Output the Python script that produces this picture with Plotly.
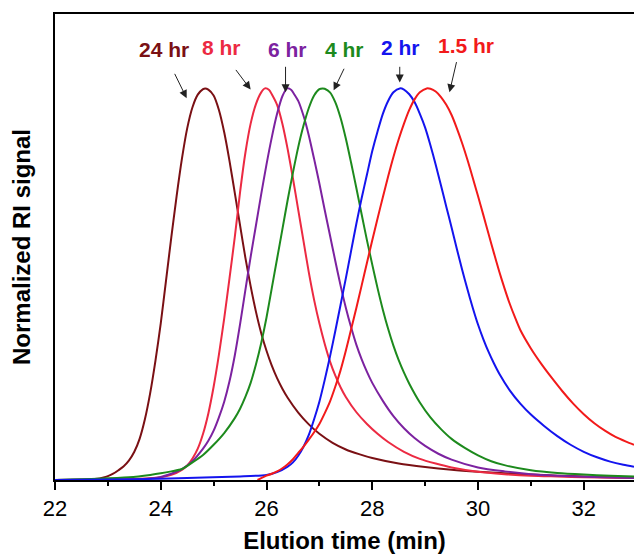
import plotly.graph_objects as go

# ---- data ----
t24_x = [22.0, 22.7, 22.8, 22.9, 23.0, 23.1, 23.2, 23.3, 23.4, 23.5, 23.6, 23.7, 23.8, 23.9, 24.0, 24.1, 24.2, 24.3, 24.4, 24.5, 24.6, 24.7, 24.8, 24.84, 24.9, 25.0, 25.1, 25.2, 25.3, 25.4, 25.5, 25.6, 25.7, 25.8, 25.9, 26.0, 26.1, 26.2, 26.3, 26.4, 26.6, 26.8, 27.0, 27.25, 27.5, 27.75, 28.0, 28.5, 29.0, 29.5, 30.0, 30.5, 31.0, 31.5, 32.0, 32.5, 32.95]
t24_y = [0.0, 0.0015, 0.003, 0.006, 0.010, 0.016, 0.025, 0.035, 0.050, 0.072, 0.105, 0.155, 0.222, 0.305, 0.400, 0.510, 0.620, 0.725, 0.820, 0.898, 0.952, 0.984, 0.998, 1.0, 0.997, 0.982, 0.945, 0.888, 0.815, 0.733, 0.650, 0.568, 0.495, 0.430, 0.375, 0.330, 0.292, 0.260, 0.233, 0.210, 0.172, 0.142, 0.118, 0.095, 0.078, 0.066, 0.056, 0.042, 0.033, 0.026, 0.021, 0.017, 0.014, 0.011, 0.009, 0.007, 0.006]

t8_x = [22.0, 23.0, 23.6, 24.0, 24.2, 24.4, 24.5, 24.6, 24.7, 24.8, 24.9, 25.0, 25.1, 25.2, 25.3, 25.4, 25.5, 25.6, 25.7, 25.8, 25.9, 25.97, 26.05, 26.1, 26.2, 26.3, 26.4, 26.5, 26.6, 26.7, 26.8, 26.9, 27.0, 27.1, 27.2, 27.3, 27.4, 27.5, 27.7, 27.9, 28.1, 28.3, 28.6, 28.9, 29.2, 29.5, 30.0, 30.5, 31.0, 31.5, 32.0, 32.95]
t8_y = [0.0, 0.001, 0.003, 0.007, 0.013, 0.026, 0.037, 0.055, 0.080, 0.118, 0.170, 0.238, 0.320, 0.413, 0.515, 0.620, 0.735, 0.835, 0.910, 0.960, 0.990, 1.0, 0.996, 0.985, 0.958, 0.910, 0.845, 0.770, 0.690, 0.610, 0.530, 0.460, 0.400, 0.348, 0.303, 0.267, 0.237, 0.212, 0.173, 0.143, 0.118, 0.097, 0.072, 0.054, 0.042, 0.032, 0.021, 0.015, 0.011, 0.009, 0.007, 0.005]

t6_x = [22.0, 23.0, 23.6, 24.0, 24.2, 24.4, 24.6, 24.8, 24.9, 25.0, 25.1, 25.2, 25.3, 25.4, 25.5, 25.6, 25.7, 25.8, 25.9, 26.0, 26.1, 26.2, 26.3, 26.39, 26.47, 26.5, 26.6, 26.7, 26.8, 26.9, 27.0, 27.1, 27.2, 27.3, 27.4, 27.5, 27.6, 27.7, 27.8, 27.9, 28.0, 28.2, 28.4, 28.6, 28.8, 29.0, 29.25, 29.5, 30.0, 30.5, 31.0, 31.5, 32.0, 32.95]
t6_y = [0.0, 0.001, 0.002, 0.008, 0.016, 0.028, 0.048, 0.080, 0.100, 0.126, 0.160, 0.200, 0.252, 0.318, 0.398, 0.485, 0.570, 0.650, 0.730, 0.806, 0.875, 0.935, 0.980, 1.0, 0.996, 0.990, 0.968, 0.930, 0.880, 0.820, 0.757, 0.690, 0.625, 0.560, 0.497, 0.440, 0.390, 0.345, 0.308, 0.276, 0.248, 0.202, 0.163, 0.132, 0.107, 0.087, 0.067, 0.052, 0.032, 0.022, 0.015, 0.011, 0.008, 0.005]

t4_x = [22.0, 22.8, 23.4, 23.8, 24.0, 24.2, 24.4, 24.6, 24.8, 25.0, 25.2, 25.4, 25.5, 25.6, 25.7, 25.8, 25.9, 26.0, 26.1, 26.2, 26.3, 26.4, 26.5, 26.6, 26.7, 26.8, 26.9, 27.0, 27.06, 27.1, 27.2, 27.3, 27.4, 27.5, 27.6, 27.7, 27.8, 27.9, 28.0, 28.1, 28.2, 28.3, 28.4, 28.5, 28.6, 28.7, 28.9, 29.1, 29.3, 29.5, 29.75, 30.0, 30.25, 30.5, 31.0, 31.5, 32.0, 32.5, 32.95]
t4_y = [0.0, 0.003, 0.007, 0.013, 0.017, 0.022, 0.028, 0.045, 0.064, 0.090, 0.120, 0.158, 0.182, 0.212, 0.248, 0.295, 0.350, 0.415, 0.490, 0.565, 0.640, 0.715, 0.785, 0.850, 0.905, 0.950, 0.982, 0.998, 1.0, 0.999, 0.990, 0.965, 0.925, 0.872, 0.810, 0.745, 0.678, 0.612, 0.550, 0.490, 0.435, 0.386, 0.343, 0.306, 0.274, 0.246, 0.198, 0.160, 0.130, 0.105, 0.082, 0.063, 0.048, 0.038, 0.025, 0.018, 0.014, 0.011, 0.009]

t2_x = [22.0, 23.5, 24.5, 25.5, 26.0, 26.2, 26.4, 26.5, 26.6, 26.7, 26.8, 26.9, 27.0, 27.1, 27.2, 27.3, 27.4, 27.5, 27.6, 27.7, 27.8, 27.9, 28.0, 28.1, 28.2, 28.3, 28.4, 28.52, 28.6, 28.7, 28.8, 28.9, 29.0, 29.1, 29.2, 29.3, 29.4, 29.5, 29.6, 29.7, 29.8, 29.9, 30.0, 30.1, 30.2, 30.3, 30.4, 30.6, 30.8, 31.0, 31.25, 31.5, 31.75, 32.0, 32.25, 32.5, 32.75, 32.95]
t2_y = [0.0, 0.002, 0.005, 0.009, 0.013, 0.020, 0.034, 0.045, 0.062, 0.085, 0.115, 0.155, 0.200, 0.255, 0.315, 0.380, 0.447, 0.515, 0.585, 0.655, 0.720, 0.780, 0.840, 0.890, 0.935, 0.968, 0.990, 1.0, 0.997, 0.985, 0.965, 0.935, 0.900, 0.855, 0.805, 0.752, 0.698, 0.645, 0.590, 0.537, 0.487, 0.440, 0.397, 0.360, 0.327, 0.298, 0.272, 0.229, 0.195, 0.167, 0.138, 0.112, 0.090, 0.072, 0.058, 0.047, 0.039, 0.034]

t15_x = [25.83, 25.9, 26.0, 26.1, 26.2, 26.3, 26.4, 26.5, 26.6, 26.7, 26.8, 26.9, 27.0, 27.1, 27.2, 27.3, 27.4, 27.5, 27.6, 27.7, 27.8, 27.9, 28.0, 28.1, 28.2, 28.3, 28.4, 28.5, 28.6, 28.7, 28.8, 28.9, 29.03, 29.1, 29.2, 29.3, 29.4, 29.5, 29.6, 29.7, 29.8, 29.9, 30.0, 30.1, 30.2, 30.3, 30.4, 30.5, 30.6, 30.7, 30.8, 31.0, 31.2, 31.4, 31.6, 31.8, 32.0, 32.2, 32.4, 32.6, 32.8, 32.95]
t15_y = [0.0, 0.005, 0.011, 0.016, 0.022, 0.030, 0.040, 0.053, 0.069, 0.085, 0.103, 0.122, 0.143, 0.170, 0.200, 0.238, 0.280, 0.330, 0.385, 0.440, 0.497, 0.555, 0.612, 0.668, 0.722, 0.775, 0.825, 0.870, 0.910, 0.945, 0.972, 0.990, 1.0, 0.999, 0.992, 0.978, 0.958, 0.932, 0.898, 0.860, 0.818, 0.772, 0.725, 0.677, 0.628, 0.580, 0.533, 0.490, 0.450, 0.415, 0.383, 0.336, 0.296, 0.260, 0.226, 0.195, 0.168, 0.145, 0.126, 0.110, 0.098, 0.090]

series_names = ["24 hr", "8 hr", "6 hr", "4 hr", "2 hr", "1.5 hr"]
series_x = [t24_x, t8_x, t6_x, t4_x, t2_x, t15_x]
series_y = [t24_y, t8_y, t6_y, t4_y, t2_y, t15_y]
x_ticks = [22, 24, 26, 28, 30, 32]

# ---- styles ----
colors = ["#7a1014", "#ec2a42", "#7c22a0", "#1d8a1d", "#1414ee", "#f21a1a"]
# label placement (layout): text centre, arrow tail, arrow head
label_pos = [
    (24.06, 1.100, 24.25, 1.041, 24.49, 0.975),
    (25.14, 1.105, 25.40, 1.051, 25.70, 0.997),
    (26.40, 1.100, 26.36, 1.059, 26.36, 0.990),
    (27.48, 1.100, 27.48, 1.054, 27.27, 0.995),
    (28.54, 1.105, 28.52, 1.059, 28.52, 1.015),
    (29.77, 1.110, 29.60, 1.071, 29.46, 0.990),
]

fig = go.Figure()
for name, xs, ys, c in zip(series_names, series_x, series_y, colors):
    fig.add_trace(go.Scatter(x=xs, y=ys, mode="lines", name=name,
                             line=dict(color=c, width=2, shape="spline", smoothing=0.7),
                             showlegend=False))

annotations = []
for name, c, (tx, ty, ax, ay, hx, hy) in zip(series_names, colors, label_pos):
    annotations.append(dict(x=tx, y=ty, xref="x", yref="y", text="<b>%s</b>" % name,
                            showarrow=False, font=dict(color=c, size=21, family="Liberation Sans, Arial")))
    annotations.append(dict(x=hx, y=hy, xref="x", yref="y", ax=ax, ay=ay, axref="x", ayref="y",
                            text="", showarrow=True, arrowhead=2, arrowsize=1.6, arrowwidth=1,
                            arrowcolor="#222222"))

fig.update_layout(
    width=634, height=558,
    margin=dict(l=55, r=0, t=14, b=78),
    paper_bgcolor="white", plot_bgcolor="white",
    annotations=annotations,
    font=dict(family="Liberation Sans, Arial", color="black"),
    xaxis=dict(range=[22, 32.95], tickvals=x_ticks, ticktext=[str(v) for v in x_ticks],
               showline=True, linecolor="black", linewidth=2, mirror=True, automargin=False,
               ticks="outside", ticklen=8, tickwidth=1.5, tickcolor="black",
               tickfont=dict(size=22), showgrid=False, zeroline=False,
               minor=dict(dtick=1, tick0=22, ticks="outside", ticklen=4, tickwidth=1.5, tickcolor="black"),
               title=dict(text="<b>Elution time (min)</b>", font=dict(size=24), standoff=12)),
    yaxis=dict(range=[0, 1.19], showline=True, linecolor="black", linewidth=2, automargin=False,
               showticklabels=False, ticks="", showgrid=False, zeroline=False,
               title=dict(text="<b>Normalized RI signal</b>", font=dict(size=24), standoff=16)),
)

fig.write_html("out.html", config={"displayModeBar": False},
               post_script="document.body.style.margin='0px';document.body.style.overflow='hidden';")
